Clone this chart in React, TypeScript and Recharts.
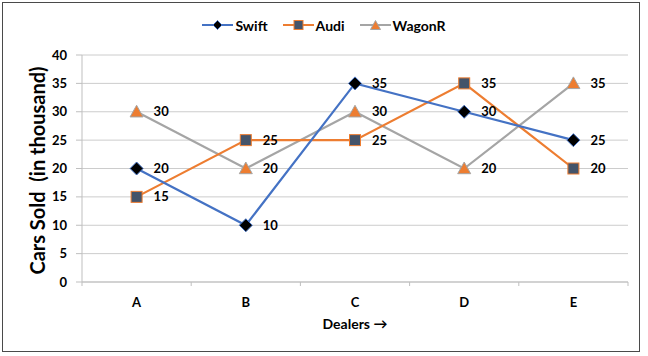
import React from 'react';
import {
  LineChart,
  Line,
  XAxis,
  YAxis,
  CartesianGrid,
  Legend,
  LabelList,
} from 'recharts';

const dealers = ['A', 'B', 'C', 'D', 'E'];
const swift = [20, 10, 35, 30, 25];
const audi = [15, 25, 25, 35, 20];
const wagonR = [30, 20, 30, 20, 35];
const yTicks = [0, 5, 10, 15, 20, 25, 30, 35, 40];

const FONT = 'Lato, "Open Sans", sans-serif';
const BLUE = '#4472c4';
const ORANGE = '#ed7d31';
const GREY = '#a5a5a5';
const SLATE = '#44546a';

const chartData = dealers.map((d, i) => ({
  name: d,
  swift: swift[i],
  audi: audi[i],
  wagonR: wagonR[i],
}));

const Diamond = ({ cx, cy, r = 7 }: any) => (
  <path
    d={`M${cx},${cy - r} L${cx + r},${cy} L${cx},${cy + r} L${cx - r},${cy} Z`}
    fill="#000"
    stroke={BLUE}
    strokeWidth={1}
  />
);

const Square = ({ cx, cy, s = 6 }: any) => (
  <rect x={cx - s} y={cy - s} width={s * 2} height={s * 2} fill={SLATE} stroke={ORANGE} strokeWidth={1} />
);

const Triangle = ({ cx, cy, s = 7 }: any) => (
  <path
    d={`M${cx},${cy - s} L${cx + s},${cy + s * 0.8} L${cx - s},${cy + s * 0.8} Z`}
    fill={ORANGE}
    stroke={GREY}
    strokeWidth={1}
  />
);

const legendItems = [
  { label: 'Swift', color: BLUE, marker: 'diamond' },
  { label: 'Audi', color: ORANGE, marker: 'square' },
  { label: 'WagonR', color: GREY, marker: 'triangle' },
];

const renderLegend = () => (
  <div style={{ display: 'flex', justifyContent: 'center', height: 20, alignItems: 'center', fontFamily: FONT }}>
    {legendItems.map((it, i) => (
      <div
        key={it.label}
        style={{ display: 'flex', alignItems: 'center', marginLeft: i === 0 ? 0 : 15 }}
      >
        <svg width={31} height={16}>
          <line x1={0} y1={8} x2={31} y2={8} stroke={it.color} strokeWidth={2} />
          {it.marker === 'diamond' && <Diamond cx={15.5} cy={8} r={4.5} />}
          {it.marker === 'square' && <Square cx={15.5} cy={8} s={4.5} />}
          {it.marker === 'triangle' && <Triangle cx={15.5} cy={8.5} s={5} />}
        </svg>
        <span style={{ fontSize: 14, fontWeight: 700, color: '#000', marginLeft: 2 }}>{it.label}</span>
      </div>
    ))}
  </div>
);

// category labels at band centres, tick marks at band edges
const XTick = ({ x, y, payload, index }: any) => {
  const half = 54.6;
  return (
    <g>
      <line x1={x - half} y1={y - 8} x2={x - half} y2={y - 4} stroke="#bfbfbf" />
      {index === dealers.length - 1 && (
        <line x1={x + half} y1={y - 8} x2={x + half} y2={y - 4} stroke="#bfbfbf" />
      )}
      <text x={x} y={y + 16.5} textAnchor="middle" fontFamily={FONT} fontSize={13} fontWeight={700} fill="#000">
        {payload.value}
      </text>
    </g>
  );
};

const labelStyle = { fontFamily: FONT, fontSize: 13, fontWeight: 700, fill: '#000' };

export default function App() {
  return (
    <div style={{ position: 'absolute', left: 0, top: 0, width: 648, height: 356, background: '#fff' }}>
      <div
        style={{
          position: 'absolute',
          left: 2,
          top: 2,
          width: 636,
          height: 348,
          border: '1.5px solid #4a4a4a',
          pointerEvents: 'none',
        }}
      />
      <LineChart width={648} height={356} data={chartData} margin={{ top: 35, right: 20, bottom: 0, left: 0 }}>
        <CartesianGrid vertical={false} stroke="#cccccc" />
        <XAxis
          dataKey="name"
          height={74}
          padding={{ left: 54.6, right: 54.6 }}
          axisLine={{ stroke: '#bfbfbf' }}
          tickLine={false}
          tick={<XTick />}
          interval={0}
          label={{
            value: 'Dealers →',
            position: 'insideTop',
            offset: 37,
            style: { fontFamily: FONT, fontSize: 14, fontWeight: 700, fill: '#000' },
          }}
        />
        <YAxis
          width={82}
          domain={[0, 40]}
          ticks={yTicks}
          interval={0}
          axisLine={{ stroke: '#bfbfbf' }}
          tickLine={{ stroke: '#bfbfbf' }}
          tickSize={6}
          tickMargin={9}
          tick={{ fontFamily: FONT, fontSize: 13, fontWeight: 700, fill: '#000' }}
          label={{
            value: 'Cars Sold  (in thousand)',
            angle: -90,
            position: 'insideLeft',
            offset: 0,
            content: ({ viewBox }: any) => {
              const cx = viewBox.x + 37;
              const cy = viewBox.y + viewBox.height / 2 + 2;
              return (
                <text
                  x={cx}
                  y={cy}
                  transform={`rotate(-90, ${cx}, ${cy})`}
                  textAnchor="middle"
                  dominantBaseline="central"
                  fontFamily={FONT}
                  fontSize={20}
                  fontWeight={700}
                  fill="#000"
                  style={{ whiteSpace: 'pre' }}
                >
                  Cars Sold  (in thousand)
                </text>
              );
            },
          }}
        />
        <Legend verticalAlign="top" content={renderLegend} wrapperStyle={{ top: 15, left: 0, width: 648 }} />
        <Line
          dataKey="wagonR"
          name="WagonR"
          stroke={GREY}
          strokeWidth={2.2}
          dot={(p: any) => <Triangle key={`w${p.index}`} cx={p.cx} cy={p.cy} s={6.5} />}
          activeDot={false}
          isAnimationActive={false}
        >
          <LabelList dataKey="wagonR" position="right" offset={17} style={labelStyle} />
        </Line>
        <Line
          dataKey="audi"
          name="Audi"
          stroke={ORANGE}
          strokeWidth={2.2}
          dot={(p: any) => <Square key={`a${p.index}`} cx={p.cx} cy={p.cy} s={5.5} />}
          activeDot={false}
          isAnimationActive={false}
        >
          <LabelList dataKey="audi" position="right" offset={17} style={labelStyle} />
        </Line>
        <Line
          dataKey="swift"
          name="Swift"
          stroke={BLUE}
          strokeWidth={2.2}
          dot={(p: any) => <Diamond key={`s${p.index}`} cx={p.cx} cy={p.cy} r={6.5} />}
          activeDot={false}
          isAnimationActive={false}
        >
          <LabelList dataKey="swift" position="right" offset={17} style={labelStyle} />
        </Line>
      </LineChart>
    </div>
  );
}
